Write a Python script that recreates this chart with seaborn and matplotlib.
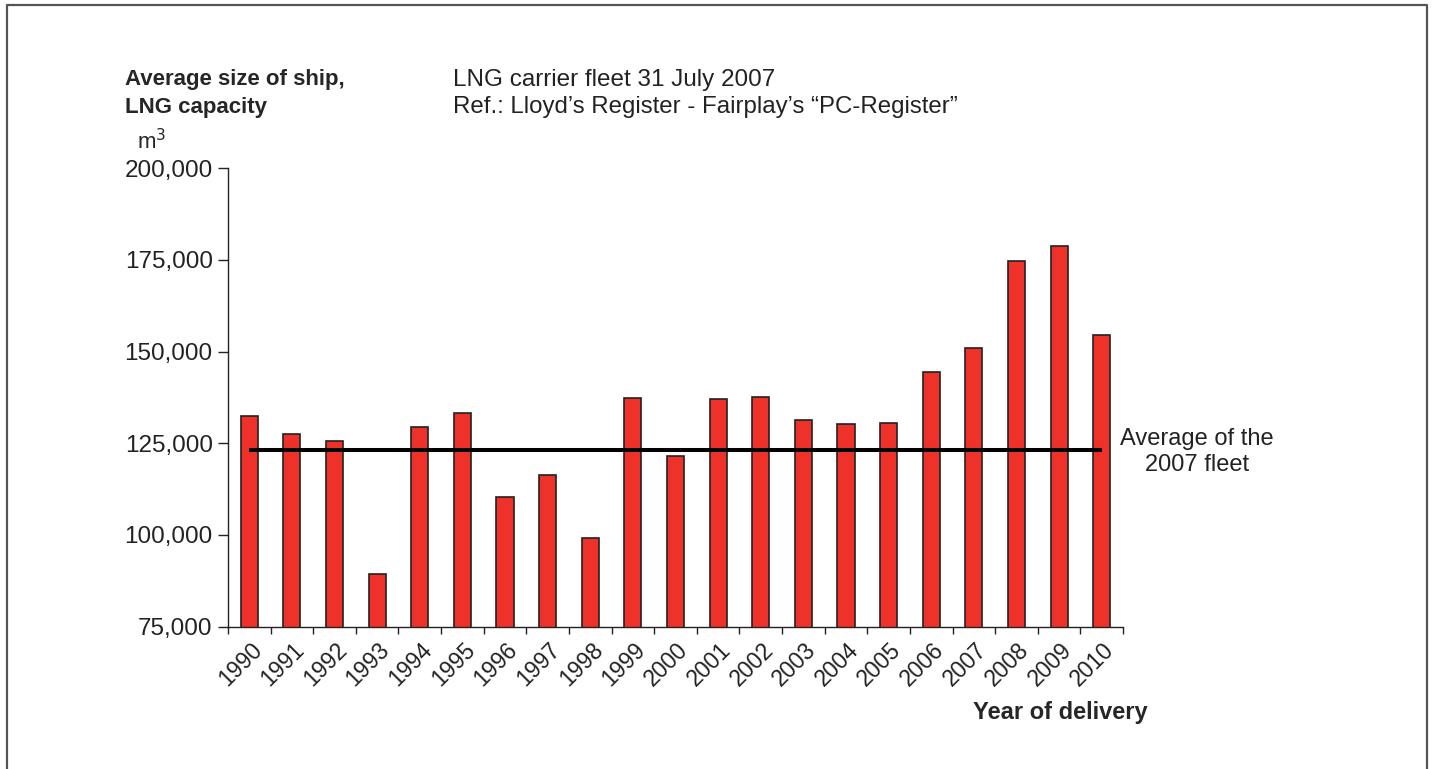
import numpy as np
import matplotlib
matplotlib.use("Agg")
import matplotlib.pyplot as plt
import matplotlib.transforms as mtransforms
from matplotlib.lines import Line2D
import seaborn as sns

# average LNG capacity per delivery year, m3
years = ["1990", "1991", "1992", "1993", "1994", "1995", "1996", "1997", "1998", "1999", "2000",
         "2001", "2002", "2003", "2004", "2005", "2006", "2007", "2008", "2009", "2010"]
avg_size = [132400, 127500, 125600, 89500, 129500, 133300, 110400, 116400, 99300, 137300, 121500,
            137200, 137600, 131300, 130300, 130600, 144500, 151000, 174600, 178800, 154600]
fleet_avg_2007 = 123200
y_ticks = [75000, 100000, 125000, 150000, 175000, 200000]

sns.set_style("ticks")
plt.rcParams['font.family'] = ['Liberation Sans', 'DejaVu Sans']

fig = plt.figure(figsize=(14.32, 7.69), dpi=100)
ax = fig.add_axes([228 / 1432, 1 - 626.7 / 769, (1123 - 228) / 1432, (626.7 - 168.2) / 769])

sns.barplot(x=years, y=avg_size, color="#EE3129", saturation=1, width=0.4,
            edgecolor="#222222", linewidth=1.2, ax=ax)
ax.hlines(fleet_avg_2007, 0, len(years) - 1, color="black", linewidth=2.9, zorder=5)

ax.set_ylim(y_ticks[0], y_ticks[-1])
ax.set_xlim(-0.5, len(years) - 0.5)
ax.set_yticks(y_ticks)
ax.set_yticklabels([f"{v:,}" for v in y_ticks], fontsize=17.5, color="#222222")
ax.set_xticks(range(len(years)))
ax.set_xticklabels(years, fontsize=16.5, color="#222222", rotation=45,
                   ha="right", va="center", rotation_mode="anchor")
ax.set_xticks(np.arange(-0.5, len(years)), minor=True)
ax.tick_params(axis="x", which="major", length=0, pad=14)
ax.tick_params(axis="x", which="minor", length=5, width=1, direction="out", color="#222222")
ax.tick_params(axis="y", length=7, width=1, direction="out", color="#222222", pad=4)
offset = mtransforms.ScaledTranslation(9 / 100, 0, fig.dpi_scale_trans)
for lbl in ax.get_xticklabels():
    lbl.set_transform(lbl.get_transform() + offset)

sns.despine(ax=ax)
for s in ["left", "bottom"]:
    ax.spines[s].set_linewidth(1.0)
    ax.spines[s].set_color("#222222")
ax.set_xlabel("")
ax.set_ylabel("")

fig.text(125 / 1432, 1 - 80 / 769, "Average size of ship,", fontsize=16, fontweight="bold",
         ha="left", va="center")
fig.text(125 / 1432, 1 - 108 / 769, "LNG capacity", fontsize=16, fontweight="bold",
         ha="left", va="center")
fig.text(137 / 1432, 1 - 142 / 769, "m$^3$", fontsize=16, ha="left", va="center")
fig.text(453 / 1432, 1 - 80 / 769, "LNG carrier fleet 31 July 2007", fontsize=17.5,
         ha="left", va="center", color="#222222")
fig.text(453 / 1432, 1 - 107 / 769, "Ref.: Lloyd\u2019s Register - Fairplay\u2019s \u201cPC-Register\u201d",
         fontsize=17.3, ha="left", va="center", color="#222222")
fig.text(1197 / 1432, 1 - 452 / 769, "Average of the\n2007 fleet", fontsize=17,
         ha="center", va="center", color="#222222", linespacing=1.2)
fig.text(1148 / 1432, 1 - 713 / 769, "Year of delivery", fontsize=17, fontweight="bold",
         ha="right", va="center")

# frame around the picture (no bottom edge)
fx = [6.5 / 1432, 6.5 / 1432, 1426.5 / 1432, 1426.5 / 1432]
fy = [0, 1 - 5 / 769, 1 - 5 / 769, 0]
fig.add_artist(Line2D(fx, fy, transform=fig.transFigure, color="#555555", linewidth=1.6))

fig.savefig("out.png", dpi=100)
